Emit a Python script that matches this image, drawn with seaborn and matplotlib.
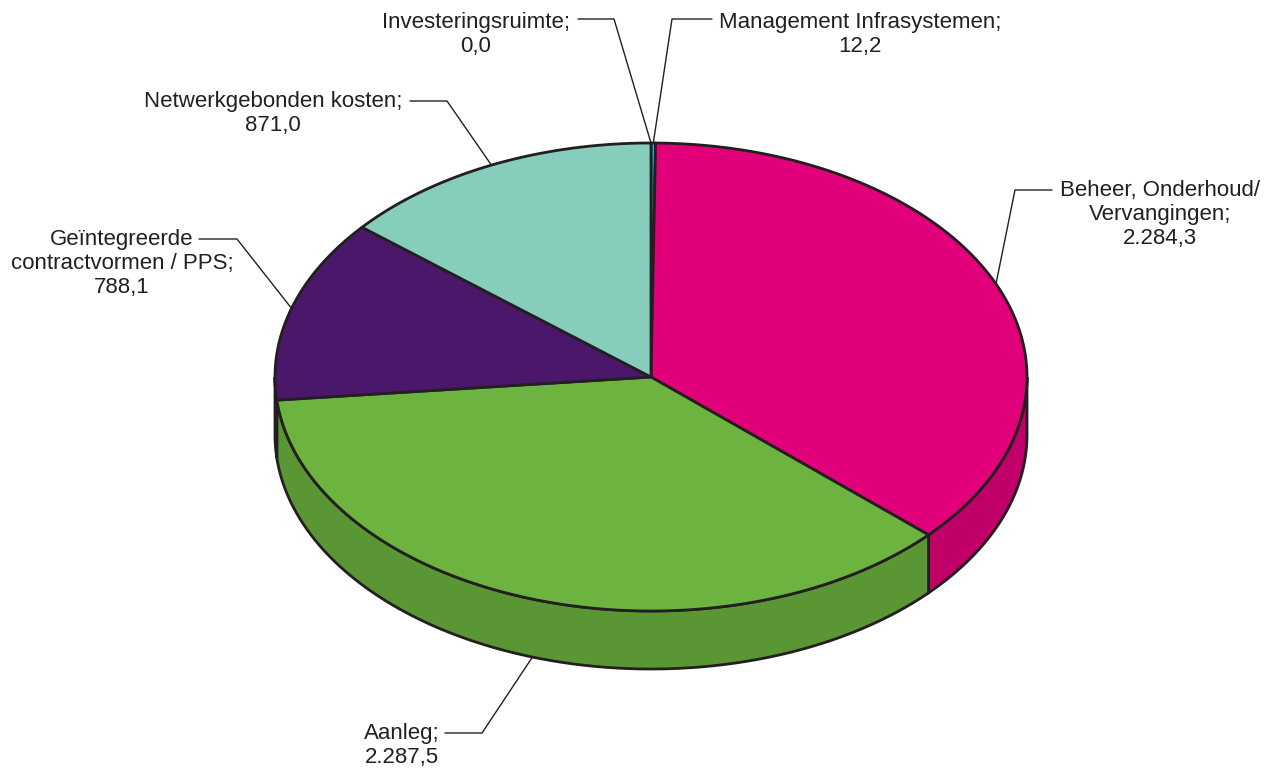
import numpy as np
import matplotlib.pyplot as plt
import seaborn as sns

# data (clockwise from 12 o'clock)
labels = ['Investeringsruimte;\n0,0',
          'Management Infrasystemen;\n12,2',
          'Beheer, Onderhoud/\nVervangingen;\n2.284,3',
          'Aanleg;\n2.287,5',
          'Geïntegreerde\ncontractvormen / PPS;\n788,1',
          'Netwerkgebonden kosten;\n871,0']
values = [0.0, 12.2, 2284.3, 2287.5, 788.1, 871.0]

top_colors = ['#29A8E0', '#29A8E0', '#E2007A', '#6CB33F', '#4A176B', '#86CEBB']
side_colors = ['#1F86B5', '#1F86B5', '#C00068', '#5A9633', '#3A1155', '#6BB09D']

# label layout (pixels): text centre x, top y, elbow x/y, end of horizontal stub
text_pos = [(476, 12), (860, 12), (1160, 180), (402, 723), (122, 229), (273, 91)]
elbows = [(614, 19), (672, 19), (1015, 190), (482, 733), (237, 239), (447, 101)]
stubs = [578, 712, 1052, 445, 199, 410]

# pie geometry in pixels
cx, cy, rx, ry, depth = 651, 377, 376, 234, 58

sns.set_theme(style='white')
plt.rcParams['font.family'] = ['Liberation Sans', 'DejaVu Sans']

fig = plt.figure(figsize=(12.75, 7.72), dpi=100)
ax = fig.add_axes([0, 0, 1, 1])
ax.set_xlim(0, 1275)
ax.set_ylim(772, 0)
ax.axis('off')

edge = '#231F20'
total = sum(values)
starts, ends = [], []
a = 90.0
for v in values:
    starts.append(a)
    a -= 360.0 * v / total
    ends.append(a)


def arc(a1, a2, dy=0, n=200):
    t = np.radians(np.linspace(a1, a2, n))
    return cx + rx * np.cos(t), cy - ry * np.sin(t) + dy


# side walls (front half only: angles between -180 and 0)
for s, e, col in zip(starts, ends, side_colors):
    lo, hi = max(e, -180), min(s, 0)
    if hi <= lo:
        continue
    xt, yt = arc(lo, hi)
    xb, yb = arc(hi, lo, depth)
    ax.fill(np.r_[xt, xb], np.r_[yt, yb], color=col, ec=edge, lw=2, zorder=1)

# top faces
for s, e, col in zip(starts, ends, top_colors):
    if s == e:
        continue
    xa, ya = arc(s, e)
    ax.fill(np.r_[cx, xa, cx], np.r_[cy, ya, cy], color=col, ec=edge, lw=2,
            joinstyle='round', zorder=2)

# labels with leader lines
for lab, s, e, (tx, ty), (ex, ey), sx in zip(labels, starts, ends, text_pos, elbows, stubs):
    mid = np.radians((s + e) / 2)
    px = cx + rx * np.cos(mid)
    py = cy - ry * np.sin(mid)
    if np.sin(mid) < -0.5:
        py += depth
    ax.plot([px, ex, sx], [py, ey, ey], color=edge, lw=1, zorder=3)
    ax.text(tx, ty, lab, ha='center', va='top', fontsize=16, color='#231F20',
            linespacing=1.18, multialignment='center')

fig.savefig('out.png', dpi=100)
